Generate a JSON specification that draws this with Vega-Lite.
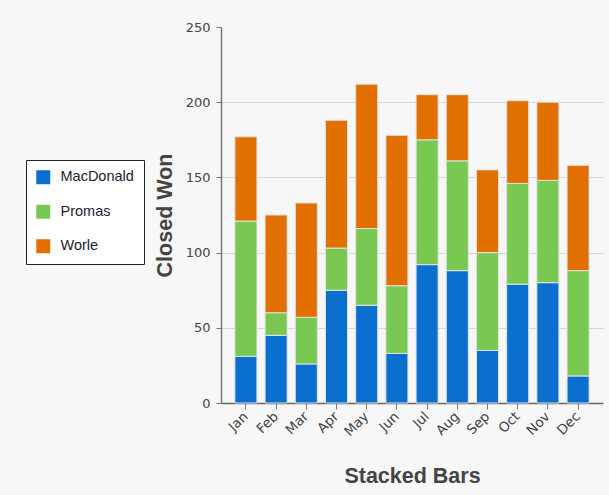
{
  "$schema": "https://vega.github.io/schema/vega-lite/v6.json",
  "autosize": {"type": "none"},
  "width": 382,
  "height": 376,
  "padding": {"left": 221, "top": 27, "right": 6, "bottom": 92},
  "background": "#f7f7f7",
  "data": {
    "values": [
      {"month": "Jan", "rep": "MacDonald", "value": 31},
      {"month": "Jan", "rep": "Promas", "value": 90},
      {"month": "Jan", "rep": "Worle", "value": 56},
      {"month": "Feb", "rep": "MacDonald", "value": 45},
      {"month": "Feb", "rep": "Promas", "value": 15},
      {"month": "Feb", "rep": "Worle", "value": 65},
      {"month": "Mar", "rep": "MacDonald", "value": 26},
      {"month": "Mar", "rep": "Promas", "value": 31},
      {"month": "Mar", "rep": "Worle", "value": 76},
      {"month": "Apr", "rep": "MacDonald", "value": 75},
      {"month": "Apr", "rep": "Promas", "value": 28},
      {"month": "Apr", "rep": "Worle", "value": 85},
      {"month": "May", "rep": "MacDonald", "value": 65},
      {"month": "May", "rep": "Promas", "value": 51},
      {"month": "May", "rep": "Worle", "value": 96},
      {"month": "Jun", "rep": "MacDonald", "value": 33},
      {"month": "Jun", "rep": "Promas", "value": 45},
      {"month": "Jun", "rep": "Worle", "value": 100},
      {"month": "Jul", "rep": "MacDonald", "value": 92},
      {"month": "Jul", "rep": "Promas", "value": 83},
      {"month": "Jul", "rep": "Worle", "value": 30},
      {"month": "Aug", "rep": "MacDonald", "value": 88},
      {"month": "Aug", "rep": "Promas", "value": 73},
      {"month": "Aug", "rep": "Worle", "value": 44},
      {"month": "Sep", "rep": "MacDonald", "value": 35},
      {"month": "Sep", "rep": "Promas", "value": 65},
      {"month": "Sep", "rep": "Worle", "value": 55},
      {"month": "Oct", "rep": "MacDonald", "value": 79},
      {"month": "Oct", "rep": "Promas", "value": 67},
      {"month": "Oct", "rep": "Worle", "value": 55},
      {"month": "Nov", "rep": "MacDonald", "value": 80},
      {"month": "Nov", "rep": "Promas", "value": 68},
      {"month": "Nov", "rep": "Worle", "value": 52},
      {"month": "Dec", "rep": "MacDonald", "value": 18},
      {"month": "Dec", "rep": "Promas", "value": 70},
      {"month": "Dec", "rep": "Worle", "value": 70}
    ]
  },
  "mark": {"type": "bar", "stroke": "#e2e2e2", "strokeWidth": 1},
  "encoding": {
    "x": {
      "field": "month",
      "type": "nominal",
      "sort": ["Jan","Feb","Mar","Apr","May","Jun","Jul","Aug","Sep","Oct","Nov","Dec"],
      "scale": {"paddingInner": 0.27, "paddingOuter": 0.46},
      "axis": {
        "title": "Stacked Bars",
        "labelAngle": -45,
        "labelAlign": "right",
        "labelBaseline": "middle",
        "labelFont": "DejaVu Sans",
        "labelFontSize": 13.5,
        "labelColor": "#444444",
        "labelPadding": 5,
        "tickColor": "#777777",
        "tickSize": 6,
        "domainColor": "#666666",
        "domainWidth": 1.5,
        "titleFont": "Liberation Sans",
        "titleFontSize": 21.5,
        "titleFontWeight": "bold",
        "titleColor": "#444444",
        "titlePadding": 27
      }
    },
    "y": {
      "field": "value",
      "type": "quantitative",
      "stack": "zero",
      "scale": {"domain": [0, 250], "nice": false},
      "axis": {
        "title": "Closed Won",
        "values": [0, 50, 100, 150, 200, 250],
        "labelFont": "DejaVu Sans",
        "labelFontSize": 13,
        "labelColor": "#444444",
        "labelPadding": 6,
        "tickColor": "#777777",
        "tickSize": 5,
        "domainColor": "#777777",
        "domainWidth": 1.5,
        "gridColor": "#d8d8d8",
        "gridOpacity": {"condition": {"test": "datum.value == 250 || datum.value == 0", "value": 0}, "value": 1},
        "titleFont": "Liberation Sans",
        "titleFontSize": 21.5,
        "titleFontWeight": "bold",
        "titleColor": "#444444",
        "titlePadding": 9
      }
    },
    "color": {
      "field": "rep",
      "type": "nominal",
      "scale": {"domain": ["MacDonald", "Promas", "Worle"], "range": ["#0b6fcf", "#79c852", "#e17000"]},
      "legend": {
        "title": null,
        "orient": "none",
        "legendX": -195,
        "legendY": 133,
        "symbolType": "square",
        "symbolSize": 196,
        "symbolStrokeWidth": 0,
        "labelFont": "Liberation Sans",
        "labelFontSize": 14.5,
        "labelColor": "#222233",
        "labelOffset": 10,
        "rowPadding": 18.5,
        "padding": 10,
        "fillColor": "#ffffff",
        "strokeColor": "#222222"
      }
    },
    "order": {"field": "rep", "sort": "ascending"}
  },
  "config": {
    "view": {"stroke": null}
  }
}
